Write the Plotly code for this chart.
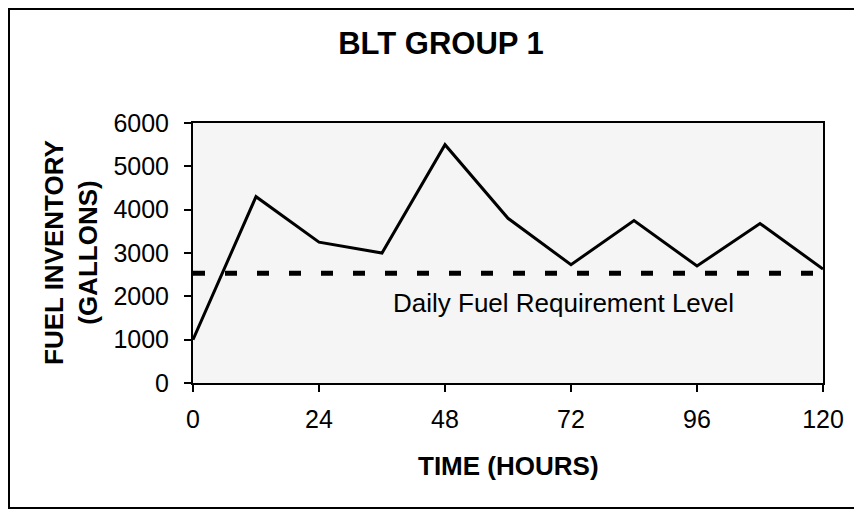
import plotly.graph_objects as go

# Data
hours = [0, 12, 24, 36, 48, 60, 72, 84, 96, 108, 120]
inventory = [1000, 4300, 3250, 3000, 5500, 3800, 2730, 3750, 2700, 3680, 2630]
req_x = [0, 120]
req_level = [2530, 2530]
x_ticks = [0, 24, 48, 72, 96, 120]
y_ticks = [0, 1000, 2000, 3000, 4000, 5000, 6000]

title_text = "BLT GROUP 1"
x_title = "TIME (HOURS)"
y_title = "FUEL INVENTORY<br>(GALLONS)"
req_label = "Daily Fuel Requirement Level"

FONT = "Liberation Sans, Arial, sans-serif"

# the page body has an 8px margin, so the figure is 8px smaller than the window
W, H = 854, 502

fig = go.Figure()
fig.add_trace(go.Scatter(
    x=req_x, y=req_level, mode="lines",
    line=dict(color="black", width=5, dash="12px,20px"),
    hoverinfo="skip", showlegend=False,
))
fig.add_trace(go.Scatter(
    x=hours, y=inventory, mode="lines",
    line=dict(color="black", width=3),
    showlegend=False,
))

fig.update_layout(
    width=W, height=H,
    margin=dict(l=185, r=39, t=115, b=127),
    paper_bgcolor="white",
    plot_bgcolor="#f5f5f5",
    font=dict(family=FONT, color="black"),
    title=dict(text="<b>" + title_text + "</b>", x=433 / W, xanchor="center",
               y=1 - 35 / H, yanchor="middle",
               font=dict(family=FONT, size=31, color="black")),
    xaxis=dict(range=[0, 120], tickvals=x_ticks, showgrid=False, zeroline=False,
               showline=True, mirror=True, linecolor="black", linewidth=2,
               ticks="outside", ticklen=7, tickwidth=1.5, tickcolor="black",
               tickfont=dict(family=FONT, size=25, color="black"),
               ticklabelstandoff=6),
    yaxis=dict(range=[0, 6000], tickvals=y_ticks, showgrid=False, zeroline=False,
               showline=True, mirror=True, linecolor="black", linewidth=2,
               ticks="outside", ticklen=7, tickwidth=1.5, tickcolor="black",
               tickfont=dict(family=FONT, size=25, color="black"),
               ticklabelstandoff=10),
    annotations=[
        dict(text="<b>" + x_title + "</b>", xref="paper", yref="paper",
             x=0.5, y=(383 - 466) / 260, xanchor="center", yanchor="middle",
             showarrow=False, font=dict(family=FONT, size=26, color="black")),
        dict(text="<b>" + y_title + "</b>", xref="paper", yref="paper",
             x=(71 - 193) / 630, y=0.5, xanchor="center", yanchor="middle",
             textangle=-90, showarrow=False,
             font=dict(family=FONT, size=26, color="black")),
        dict(text=req_label, xref="x", yref="y", x=70.5, y=1850,
             xanchor="center", yanchor="middle", showarrow=False,
             font=dict(family=FONT, size=26, color="black")),
    ],
    shapes=[
        dict(type="rect", xref="paper", yref="paper",
             x0=(9 - 193) / 630, x1=(870 - 193) / 630,
             y0=(383 - 508) / 260, y1=(383 - 9) / 260,
             line=dict(color="black", width=2), layer="below"),
    ],
)

fig.write_html("out.html")
